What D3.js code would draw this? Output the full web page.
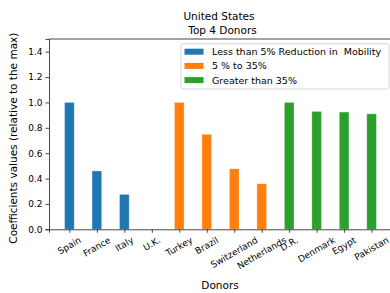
<!DOCTYPE html>
<html>
<head>
<meta charset="utf-8">
<script src="https://cdn.jsdelivr.net/npm/d3@7"></script>
<style>
  body { margin: 0; background: #fff; }
  text { font-family: "DejaVu Sans", sans-serif; fill: #000; }
</style>
</head>
<body>
<script>
// data
var donors = ["Spain", "France", "Italy", "U.K.", "Turkey", "Brazil", "Switzerland",
              "Netherlands", "D.R.", "Denmark", "Egypt", "Pakistan"];
var coefficients = [1.0, 0.46, 0.275, 0, 1.0, 0.748, 0.477, 0.359, 1.0, 0.929, 0.924, 0.91];
var groupOfDonor = [0, 0, 0, 0, 1, 1, 1, 1, 2, 2, 2, 2];
var groupNames = ["Less than 5% Reduction in  Mobility", "5 % to 35%", "Greater than 35%"];
var groupColors = ["#1f77b4", "#ff7f0e", "#2ca02c"];
var yTicks = [0, 0.2, 0.4, 0.6, 0.8, 1.0, 1.2, 1.4];

var W = 390, H = 293;
var plotLeft = 49, plotRight = 392, plotTop = 39, plotBottom = 229.3;
var barWidth = 0.35;
var ink = "#1a1a1a";

var svg = d3.select("body").append("svg")
    .attr("width", W)
    .attr("height", H);

var x = d3.scaleLinear()
    .domain([-barWidth / 2 - 0.5675, donors.length - 1 + barWidth / 2 + 0.5675])
    .range([plotLeft, plotRight]);
var y = d3.scaleLinear().domain([0, 1.5]).range([plotBottom, plotTop]);

// bars
svg.selectAll(".bar")
    .data(coefficients)
    .enter().append("rect")
        .attr("class", "bar")
        .attr("x", function(d, i) { return x(i - barWidth / 2); })
        .attr("width", function() { return x(barWidth) - x(0); })
        .attr("y", function(d) { return y(d); })
        .attr("height", function(d) { return y(0) - y(d); })
        .attr("fill", function(d, i) { return groupColors[groupOfDonor[i]]; })
        .attr("stroke", "white")
        .attr("stroke-opacity", 0.35)
        .attr("stroke-width", 0.8);

// y axis
var yAxis = svg.append("g")
    .attr("transform", "translate(" + plotLeft + ",0)")
    .call(d3.axisLeft(y).tickValues(yTicks).tickFormat(d3.format(".1f")).tickSizeOuter(0).tickSize(3.5).tickPadding(3));
yAxis.select(".domain").attr("stroke", ink).attr("stroke-width", 0.8);
yAxis.selectAll(".tick line").attr("stroke", ink).attr("stroke-width", 0.8);
yAxis.selectAll(".tick text").style("font-size", "9px").style("font-family", "DejaVu Sans").attr("fill", "#000");

// x axis
var xAxis = svg.append("g")
    .attr("transform", "translate(0," + plotBottom + ")")
    .call(d3.axisBottom(x).tickValues(d3.range(donors.length)).tickFormat("").tickSizeOuter(0).tickSize(3.5));
xAxis.select(".domain").attr("stroke", ink).attr("stroke-width", 0.8);
xAxis.selectAll(".tick line").attr("stroke", ink).attr("stroke-width", 0.8);

// rotated tick labels, centred on the tick like matplotlib
var angle = 30 * Math.PI / 180;
donors.forEach(function(name, i) {
    var t = svg.append("text")
        .text(name)
        .style("font-size", "9px")
        .attr("text-anchor", "middle")
        .attr("dominant-baseline", "central");
    var w = t.node().getComputedTextLength(), h = 10.5;
    var cy = plotBottom + 5.5 + (w * Math.sin(angle) + h * Math.cos(angle)) / 2;
    t.attr("x", x(i)).attr("y", cy)
        .attr("transform", "rotate(-30," + x(i) + "," + cy + ")");
});

// top spine
svg.append("line")
    .attr("x1", plotLeft).attr("x2", plotRight)
    .attr("y1", plotTop).attr("y2", plotTop)
    .attr("stroke", ink).attr("stroke-width", 0.8);

// titles
svg.append("text")
    .attr("x", 219).attr("y", 20)
    .attr("text-anchor", "middle")
    .style("font-size", "10.5px")
    .text("United States");
svg.append("text")
    .attr("x", 222.5).attr("y", 33.5)
    .attr("text-anchor", "middle")
    .style("font-size", "10.5px")
    .text("Top 4 Donors");

// axis labels
svg.append("text")
    .attr("x", 220).attr("y", 289)
    .attr("text-anchor", "middle")
    .style("font-size", "10.5px")
    .text("Donors");
svg.append("text")
    .attr("transform", "translate(17," + ((plotTop + plotBottom) / 2 + 4) + ") rotate(-90)")
    .attr("text-anchor", "middle")
    .style("font-size", "10.5px")
    .text("Coefficients values (relative to the max)");

// legend
var legend = svg.append("g").attr("transform", "translate(181,43.7)");
legend.append("rect")
    .attr("width", 208).attr("height", 45.3)
    .attr("rx", 2)
    .attr("fill", "white").attr("fill-opacity", 0.8)
    .attr("stroke", "#cccccc").attr("stroke-width", 0.8);
groupNames.forEach(function(name, i) {
    var row = legend.append("g").attr("transform", "translate(0," + (8 + i * 14.2) + ")");
    row.append("rect")
        .attr("x", 3.5).attr("y", -3)
        .attr("width", 19).attr("height", 6)
        .attr("fill", groupColors[i]);
    row.append("text")
        .attr("x", 31).attr("y", 0)
        .attr("dominant-baseline", "central")
        .style("font-size", "9.5px")
        .style("white-space", "pre")
        .text(name);
});
</script>
</body>
</html>
